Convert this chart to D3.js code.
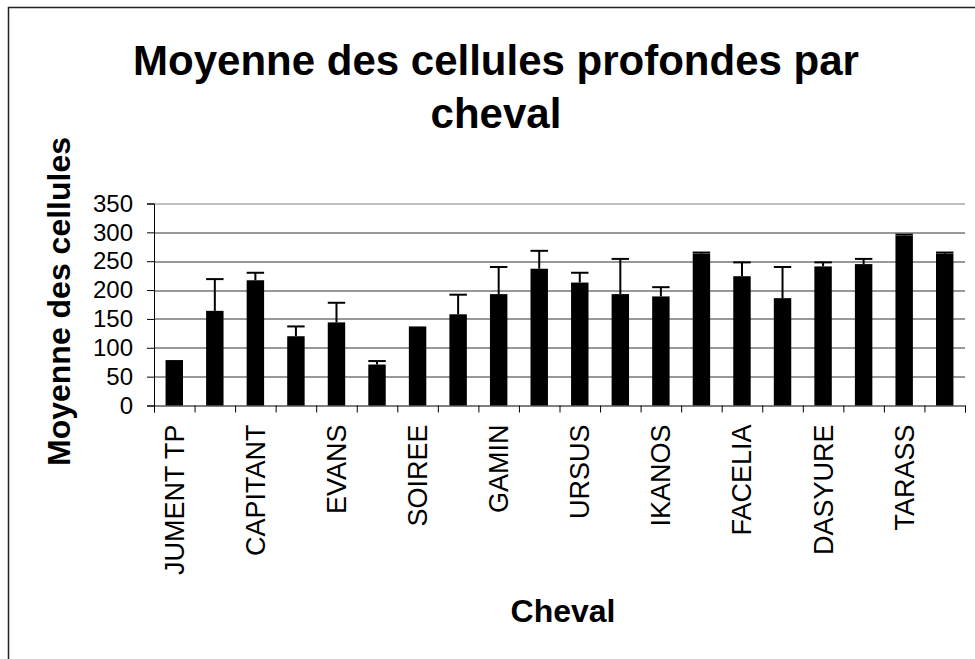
<!DOCTYPE html>
<html>
<head>
<meta charset="utf-8">
<script src="https://cdn.jsdelivr.net/npm/d3@7"></script>
<style>
  body { margin: 0; background: #fff; }
  svg { display: block; font-family: "Liberation Sans", Arial, sans-serif; }
</style>
</head>
<body>
<svg id="chartSvg" width="975" height="659"></svg>
<script>
// horse names (odd ones are not shown on the axis)
const horses = ["JUMENT TP", "", "CAPITANT", "", "EVANS", "", "SOIREE", "", "GAMIN", "",
                "URSUS", "", "IKANOS", "", "FACELIA", "", "DASYURE", "", "TARASS", ""];
const means = [76, 164, 217, 120, 144, 71, 137, 158, 193, 237,
               213, 193, 189, 263, 224, 186, 241, 245, 294, 263];
const errors = [1, 55, 13, 17, 34, 6, 0, 34, 47, 31,
                17, 61, 16, 2, 24, 54, 7, 9, 2, 2];
const yTicks = [0, 50, 100, 150, 200, 250, 300, 350];

const margin = { top: 203.5, left: 154 },
      width = 811,
      height = 202;

const svg = d3.select("#chartSvg");

// outer chart frame
svg.append("rect")
    .attr("x", 8.5).attr("y", 7.5)
    .attr("width", 1000).attr("height", 700)
    .attr("fill", "none")
    .attr("stroke", "#222")
    .attr("stroke-width", 1.5);

// title
const title = svg.append("text")
    .attr("text-anchor", "middle")
    .style("font-size", "42px")
    .style("font-weight", "bold");
title.append("tspan").attr("x", 496).attr("y", 75).text("Moyenne des cellules profondes par");
title.append("tspan").attr("x", 496).attr("y", 128).text("cheval");

const g = svg.append("g")
    .attr("transform", `translate(${margin.left},${margin.top})`);

const idx = d3.range(horses.length);

const x = d3.scaleBand()
    .domain(idx)
    .range([0, width])
    .paddingInner(0.57)
    .paddingOuter(0.285);

const slots = d3.scaleLinear().domain([0, horses.length]).range([0, width]);

const y = d3.scaleLinear()
    .domain([0, 350])
    .range([height, 0]);

// gridlines
g.append("g")
    .selectAll("line")
    .data(yTicks.filter(t => t > 0))
    .enter().append("line")
    .attr("x1", 0).attr("x2", width)
    .attr("y1", d => Math.round(y(d)) + 0.5)
    .attr("y2", d => Math.round(y(d)) + 0.5)
    .attr("stroke", d => d === 350 ? "#808080" : "#333")
    .attr("stroke-width", 1);

// y axis
const yAxis = g.append("g")
    .call(d3.axisLeft(y).tickValues(yTicks).tickSize(7).tickPadding(14));
yAxis.selectAll("text")
    .style("font-size", "24px")
    .style("font-family", "Liberation Sans, Arial, sans-serif")
    .attr("fill", "#000");
yAxis.selectAll("line, path").attr("stroke", "#000");

// x axis: tick marks at slot boundaries
const xTicks = g.append("g")
    .attr("transform", `translate(0,${height})`)
    .call(d3.axisBottom(slots).tickValues(d3.range(horses.length + 1)).tickSize(7).tickFormat(""));
xTicks.selectAll("line, path").attr("stroke", "#000");

// x labels, centered on bars
const xLabels = g.append("g")
    .attr("transform", `translate(0,${height})`)
    .call(d3.axisBottom(x).tickSize(0).tickFormat(i => horses[i]));
xLabels.select(".domain").remove();
xLabels.selectAll("text")
    .attr("transform", "rotate(-90)")
    .attr("x", -19)
    .attr("y", 0)
    .attr("dy", "0.35em")
    .attr("text-anchor", "end")
    .attr("fill", "#000")
    .style("font-size", "27px")
    .style("font-family", "Liberation Sans, Arial, sans-serif");

// bars
g.selectAll(".bar")
    .data(idx)
    .enter().append("rect")
    .attr("class", "bar")
    .attr("x", i => x(i))
    .attr("y", i => y(means[i]))
    .attr("width", x.bandwidth())
    .attr("height", i => height - y(means[i]))
    .attr("fill", "#000");

// error bars (upper only)
const err = g.selectAll(".err")
    .data(idx.filter(i => errors[i] > 0))
    .enter().append("g")
    .attr("class", "err")
    .attr("stroke", "#000")
    .attr("stroke-width", 2);

err.append("line")
    .attr("x1", i => x(i) + x.bandwidth() / 2)
    .attr("x2", i => x(i) + x.bandwidth() / 2)
    .attr("y1", i => y(means[i]))
    .attr("y2", i => y(means[i] + errors[i]));

err.append("line")
    .attr("x1", i => x(i))
    .attr("x2", i => x(i) + x.bandwidth())
    .attr("y1", i => y(means[i] + errors[i]))
    .attr("y2", i => y(means[i] + errors[i]));

// axis titles
svg.append("text")
    .attr("transform", `translate(70,${margin.top + height / 2 - 3}) rotate(-90)`)
    .attr("text-anchor", "middle")
    .style("font-size", "32px")
    .style("font-weight", "bold")
    .text("Moyenne des cellules");

svg.append("text")
    .attr("x", 563)
    .attr("y", 622)
    .attr("text-anchor", "middle")
    .style("font-size", "32px")
    .style("font-weight", "bold")
    .text("Cheval");
</script>
</body>
</html>
